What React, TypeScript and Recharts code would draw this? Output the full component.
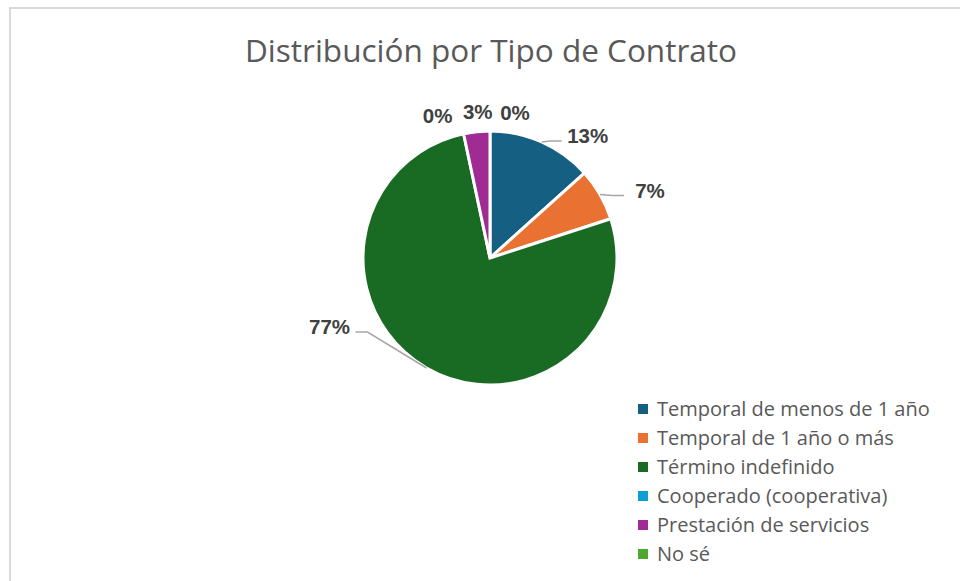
import { PieChart, Pie, Cell } from "recharts";

const categories = [
  "Temporal de menos de 1 año",
  "Temporal de 1 año o más",
  "Término indefinido",
  "Cooperado (cooperativa)",
  "Prestación de servicios",
  "No sé",
];
const counts = [4, 2, 23, 0, 1, 0];
const colors = ["#156082", "#E97132", "#196B24", "#0F9ED5", "#A02B93", "#4EA72E"];

// label nudges relative to the slice edge point (text centre), and whether a leader line is drawn
const labelNudge = [
  { dx: 46, dy: -6, line: true },
  { dx: 50, dy: -4, line: true },
  { dx: -97, dy: -41, line: true },
  { dx: -26, dy: -18, line: false },
  { dx: 1, dy: -20, line: false },
  { dx: 25, dy: -19, line: false },
];

const data = categories.map((name, i) => ({ name, value: counts[i] }));
const total = counts.reduce((a, b) => a + b, 0);
const RAD = Math.PI / 180;

const renderLabel = (props: any) => {
  const { cx, cy, midAngle, outerRadius, index, value } = props;
  const ex = cx + outerRadius * Math.cos(-midAngle * RAD);
  const ey = cy + outerRadius * Math.sin(-midAngle * RAD);
  const n = labelNudge[index];
  const tx = ex + n.dx;
  const ty = ey + n.dy;
  const pct = `${Math.round((value / total) * 100)}%`;
  let path = null;
  if (n.line) {
    const right = n.dx > 0;
    const endX = right ? tx - 26 : tx + 26;
    const endY = ty + 5;
    const elbowX = right ? endX - 12 : endX + 12;
    path = (
      <path
        d={`M${ex},${ey}L${elbowX},${endY}L${endX},${endY}`}
        stroke="#a6a6a6"
        strokeWidth={1.5}
        fill="none"
      />
    );
  }
  return (
    <g key={`lbl-${index}`}>
      {path}
      <text
        x={tx}
        y={ty}
        textAnchor="middle"
        dominantBaseline="central"
        fill="#404040"
        fontSize={20.5}
        fontWeight="bold"
        fontFamily="'Liberation Sans', Arial, sans-serif"
      >
        {pct}
      </text>
    </g>
  );
};

export default function App() {
  return (
    <div style={{ position: "fixed", left: 0, top: 0, width: 960, height: 581, background: "#fff", overflow: "hidden" }}>
      <div
        style={{
          position: "absolute",
          left: 9,
          top: 7,
          width: 1000,
          height: 700,
          border: "2px solid #d9d9d9",
        }}
      />
      <div
        style={{
          position: "absolute",
          left: 0,
          width: 982,
          top: 28,
          textAlign: "center",
          fontFamily: "'Open Sans', sans-serif",
          fontSize: 31.5,
          color: "#595959",
        }}
      >
        Distribución por Tipo de Contrato
      </div>
      <div style={{ position: "absolute", left: 0, top: 0 }}>
        <PieChart width={960} height={581} margin={{ top: 0, right: 0, bottom: 0, left: 0 }}>
          <Pie
            data={data}
            dataKey="value"
            nameKey="name"
            cx={490}
            cy={258}
            outerRadius={127}
            startAngle={90}
            endAngle={-270}
            stroke="#ffffff"
            strokeWidth={3}
            label={renderLabel}
            labelLine={false}
            isAnimationActive={false}
          >
            {data.map((d, i) => (
              <Cell key={d.name} fill={colors[i]} />
            ))}
          </Pie>
        </PieChart>
      </div>
      <div
        style={{
          position: "absolute",
          left: 638,
          top: 394,
          fontFamily: "'Open Sans', sans-serif",
          fontSize: 20,
          color: "#595959",
        }}
      >
        {categories.map((c, i) => (
          <div key={c} style={{ display: "flex", alignItems: "center", height: 29 }}>
            <span
              style={{ width: 10, height: 10, background: colors[i], display: "inline-block", marginRight: 9 }}
            />
            <span>{c}</span>
          </div>
        ))}
      </div>
    </div>
  );
}
